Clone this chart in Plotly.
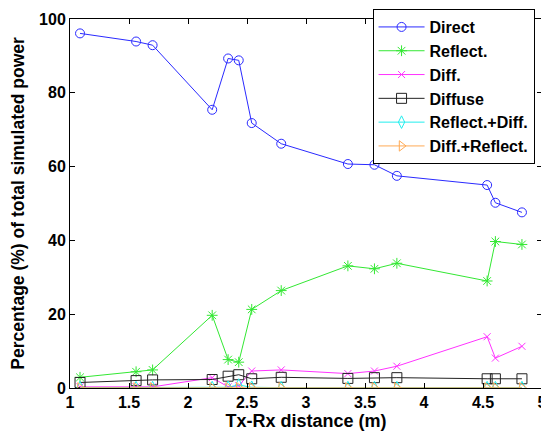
import plotly.graph_objects as go

distance = [1.085, 1.56, 1.70, 2.205, 2.34, 2.43, 2.54, 2.79, 3.355, 3.58, 3.77, 4.535, 4.605, 4.83]
direct = [96.1, 93.9, 92.9, 75.4, 89.3, 88.8, 71.8, 66.2, 60.7, 60.5, 57.5, 55.0, 50.2, 47.6]
reflect = [2.9, 4.4, 4.9, 19.7, 7.7, 7.0, 21.3, 26.4, 33.1, 32.3, 33.8, 29.0, 39.7, 38.9]
diff = [0.3, 0.3, 0.3, 2.8, 0.3, 0.6, 4.6, 4.9, 3.9, 4.6, 5.9, 13.9, 8.1, 11.3]
diffuse = [1.5, 2.0, 2.2, 2.3, 3.2, 3.6, 2.5, 2.9, 2.6, 2.8, 2.8, 2.5, 2.5, 2.5]
reflect_diff = [0.1, 0.1, 0.1, 0.1, 0.2, 0.8, 0.2, 0.1, 0.1, 0.1, 0.1, 0.1, 0.1, 0.1]
diff_reflect = [0.05, 0.05, 0.05, 0.05, 0.05, 0.1, 0.05, 0.05, 0.05, 0.05, 0.05, 0.05, 0.05, 0.05]

x_ticks = [1, 1.5, 2, 2.5, 3, 3.5, 4, 4.5, 5]
x_tick_labels = ["1", "1.5", "2", "2.5", "3", "3.5", "4", "4.5", "5"]
y_ticks = [0, 20, 40, 60, 80, 100]

series = [
    ("Direct", direct, "#2a2aff", "circle-open", 9),
    ("Reflect.", reflect, "#33e833", "asterisk-open", 9),
    ("Diff.", diff, "#ff33ff", "x-thin-open", 7),
    ("Diffuse", diffuse, "#222222", "square-open", 10),
    ("Reflect.+Diff.", reflect_diff, "#22eeee", "diamond-tall-open", 9),
    ("Diff.+Reflect.", diff_reflect, "#ffaa55", "triangle-right-open", 9),
]

FONT = "Liberation Sans, Arial, sans-serif"

fig = go.Figure()
for name, vals, color, sym, size in series:
    fig.add_trace(go.Scatter(
        x=distance, y=vals, name=name, mode="lines+markers",
        line=dict(color=color, width=1),
        marker=dict(symbol=sym, size=size, color=color, line=dict(color=color, width=1)),
    ))

axis_common = dict(
    showgrid=False, zeroline=False, showline=True, linecolor="black", linewidth=1,
    mirror="ticks", ticks="inside", ticklen=5, tickcolor="black",
    tickfont=dict(family=FONT, size=16, color="black", weight="bold"),
)

# the page body has an 8px margin, so the figure is sized to fit the window
fig.update_layout(
    width=541, height=424,
    margin=dict(l=62, r=7, t=11, b=44, autoexpand=False),
    paper_bgcolor="white", plot_bgcolor="white",
    showlegend=True,
    legend=dict(
        x=0.641, y=1.027, xanchor="left", yanchor="top",
        bgcolor="white", bordercolor="black", borderwidth=1,
        font=dict(family=FONT, size=16, color="black", weight="bold"),
        itemwidth=46,
    ),
    xaxis=dict(
        range=[1, 5], tickvals=x_ticks, ticktext=x_tick_labels,
        title=dict(text="Tx-Rx distance (m)", standoff=2,
                   font=dict(family=FONT, size=18, color="black", weight="bold")),
        **axis_common,
    ),
    yaxis=dict(
        range=[0, 100], tickvals=y_ticks,
        title=dict(text="Percentage (%) of total simulated power", standoff=9,
                   font=dict(family=FONT, size=17.5, color="black", weight="bold")),
        **axis_common,
    ),
)

fig.write_html("out.html")
